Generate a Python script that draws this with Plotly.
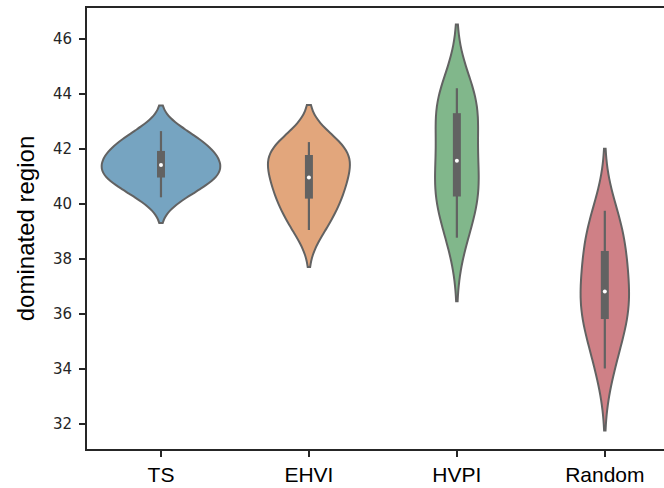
import numpy as np
import plotly.graph_objects as go

categories = ["TS", "EHVI", "HVPI", "Random"]
ts_values = [40.24, 40.70, 40.92, 41.08, 41.35, 41.49, 41.80, 41.97, 42.25, 42.65]
ehvi_values = [39.05, 39.70, 40.05, 40.62, 40.75, 41.17, 41.57, 41.85, 42.05, 42.25]
hvpi_values = [38.77, 39.90, 40.10, 40.78, 41.25, 41.89, 42.95, 43.42, 43.70, 44.21]
random_values = [34.01, 35.20, 35.62, 36.38, 36.62, 37.00, 37.95, 38.40, 38.95, 39.75]
y_ticks = [32, 34, 36, 38, 40, 42, 44, 46]

series = [ts_values, ehvi_values, hvpi_values, random_values]
fill_colors = ["#76a4c1", "#e2a67c", "#81b78b", "#cf8086"]
gray = "#626262"
ink = "#262626"
full_width = 0.8


def scott_bw(a):
    return a.std(ddof=1) * len(a) ** (-0.2)


def kde_peak(a, bw):
    grid = np.linspace(a.min() - 2 * bw, a.max() + 2 * bw, 400)
    dens = np.exp(-0.5 * ((grid[:, None] - a[None, :]) / bw) ** 2).sum(axis=1)
    dens /= len(a) * bw * np.sqrt(2 * np.pi)
    return dens.max()


arrays = [np.asarray(v, dtype=float) for v in series]
bws = [scott_bw(a) for a in arrays]
peaks = [kde_peak(a, b) for a, b in zip(arrays, bws)]
max_peak = max(peaks)

fig = go.Figure()
for cat, a, bw, pk, col in zip(categories, arrays, bws, peaks, fill_colors):
    fig.add_trace(go.Violin(
        x=[cat] * len(a), y=a, name=cat,
        fillcolor=col, line=dict(color=gray, width=2),
        points=False, box_visible=False, meanline_visible=False,
        bandwidth=bw, spanmode="soft", width=full_width * pk / max_peak,
        scalemode="width",
        hoverinfo="skip", showlegend=False,
    ))

for cat, a in zip(categories, arrays):
    q1, med, q3 = np.percentile(a, [25, 50, 75])
    iqr = q3 - q1
    lo = a[a >= q1 - 1.5 * iqr].min()
    hi = a[a <= q3 + 1.5 * iqr].max()
    fig.add_trace(go.Scatter(x=[cat, cat], y=[lo, hi], mode="lines",
                             line=dict(color=gray, width=2.2),
                             hoverinfo="skip", showlegend=False))
    fig.add_trace(go.Scatter(x=[cat, cat], y=[q1, q3], mode="lines",
                             line=dict(color=gray, width=8),
                             hoverinfo="skip", showlegend=False))
    fig.add_trace(go.Scatter(x=[cat], y=[med], mode="markers",
                             marker=dict(color="white", size=4, line=dict(width=0)),
                             hoverinfo="skip", showlegend=False))

fig.update_layout(
    width=664, height=488,
    margin=dict(l=87, r=0, t=8, b=39),
    paper_bgcolor="white", plot_bgcolor="white",
    violinmode="overlay",
    font=dict(family="Liberation Sans, Arial, sans-serif", color=ink),
)
fig.update_xaxes(
    type="category", categoryorder="array", categoryarray=categories,
    range=[-0.5, 3.4],
    showline=True, linecolor=ink, linewidth=2, mirror=True,
    ticks="outside", ticklen=6, tickwidth=1.5, tickcolor=ink,
    tickfont=dict(family="Liberation Sans, Arial, sans-serif", size=21, color="black"),
    showgrid=False, zeroline=False,
)
fig.update_yaxes(
    range=[31.08, 47.13],
    tickmode="array", tickvals=y_ticks, ticktext=[str(t) for t in y_ticks],
    showline=True, linecolor=ink, linewidth=2, mirror=False,
    ticks="outside", ticklen=6, tickwidth=1.5, tickcolor=ink,
    ticklabelstandoff=4,
    tickfont=dict(family="DejaVu Sans", size=15, color=ink),
    showgrid=False, zeroline=False,
    title=dict(text="dominated region", standoff=12,
               font=dict(family="Liberation Sans, Arial, sans-serif", size=24, color="black")),
)

fig.write_html("out.html")
